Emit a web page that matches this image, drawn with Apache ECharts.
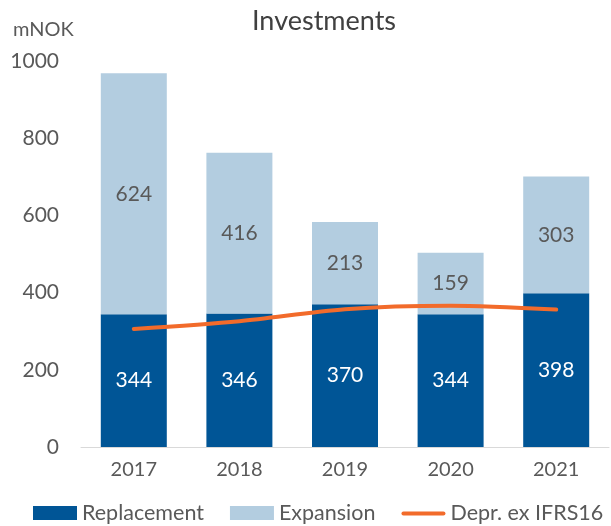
<!DOCTYPE html>
<html><head><meta charset="utf-8">
<script src="https://cdn.jsdelivr.net/npm/echarts@6/dist/echarts.min.js"></script>
<style>html,body{margin:0;padding:0;background:#fff}#c{width:611px;height:526px}</style>
</head><body><div id="c"></div>
<script>
const categories = ['2017','2018','2019','2020','2021'];
const replacement = [344, 346, 370, 344, 398];
const expansion = [624, 416, 213, 159, 303];
const depreciation = [306, 326, 357, 366, 356];
const yTicks = [0, 200, 400, 600, 800, 1000];

const FONT = 'Lato';
const TXT = '#595959';
const chart = echarts.init(document.getElementById('c'));
chart.setOption({
  animation: false,
  textStyle: {fontFamily: FONT},
  title: {text: 'Investments', left: 247, top: 3,
    textStyle: {fontFamily: FONT, fontSize: 27, fontWeight: 'normal', color: '#404040'}},
  graphic: [{type: 'text', left: 13, top: 20,
    style: {text: 'mNOK', fontFamily: FONT, fontSize: 20, fill: TXT}}],
  legend: {
    bottom: 2, left: 33, right: 0, padding: 0, itemWidth: 44, itemHeight: 14, itemGap: 26,
    textStyle: {fontFamily: FONT, fontSize: 21.5, color: TXT},
    data: [{name: 'Replacement', icon: 'rect'}, {name: 'Expansion', icon: 'rect'},
      {name: 'Depr. ex IFRS16', icon: 'path://M0,0M2,5.5h40a2,2 0 0 1 0,4h-40a2,2 0 0 1 0,-4zM44,14',
       itemStyle: {color: '#f26b2b'}}]
  },
  grid: {left: 81, right: 2, top: 61, bottom: 79, containLabel: false},
  xAxis: {type: 'category', data: categories,
    axisLine: {lineStyle: {color: '#d9d9d9', width: 1}}, axisTick: {show: false},
    axisLabel: {fontFamily: FONT, fontSize: 20, color: TXT, margin: 13}},
  yAxis: {type: 'value', min: yTicks[0], max: yTicks[yTicks.length-1], interval: 200,
    splitLine: {show: false}, axisLine: {show: false}, axisTick: {show: false},
    axisLabel: {fontFamily: FONT, fontSize: 21, color: TXT, margin: 22, formatter: v => String(v)}},
  series: [
    {name: 'Replacement', type: 'bar', stack: 'a', data: replacement, barWidth: '62.5%',
      itemStyle: {color: '#005596'},
      label: {show: true, position: 'inside', fontFamily: FONT, fontSize: 21, color: '#fff'}},
    {name: 'Expansion', type: 'bar', stack: 'a', data: expansion,
      itemStyle: {color: '#b3cde0'},
      label: {show: true, position: 'inside', fontFamily: FONT, fontSize: 21, color: TXT}},
    {name: 'Depr. ex IFRS16', type: 'line', data: depreciation, smooth: 0.3, symbol: 'none',
      lineStyle: {color: '#f26b2b', width: 4, cap: 'round'}, itemStyle: {color: '#f26b2b'}, z: 5}
  ]
});
</script></body></html>
